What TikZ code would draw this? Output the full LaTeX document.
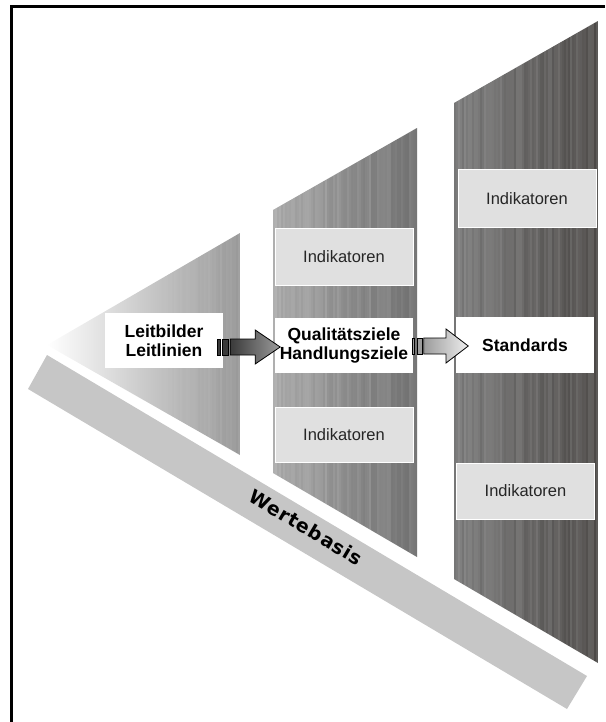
\documentclass[tikz,border=0pt]{standalone}
\usepackage{fontspec}
\setmainfont{Liberation Sans}
\newfontfamily\heavyfont{DejaVu Sans}[LetterSpace=5]
\usetikzlibrary{calc}

\definecolor{bandgray}{HTML}{C6C6C6}
\definecolor{indgray}{HTML}{E0E0E0}
\definecolor{triR}{HTML}{969696}
\definecolor{pTwoL}{HTML}{A6A6A6}
\definecolor{pTwoR}{HTML}{6A6A6A}
\definecolor{pThreeL}{HTML}{767676}
\definecolor{pThreeR}{HTML}{4B4846}
\definecolor{arrDark}{HTML}{3A3A3A}
\definecolor{arrMid}{HTML}{9C9C9C}
\definecolor{arrLight}{HTML}{EEEEEE}

\tikzset{
  indbox/.style={draw=white, line width=1pt, fill=indgray, inner sep=0pt,
    minimum width=138pt, minimum height=56pt,
    font=\fontsize{16.5}{18}\selectfont, text=black!85},
  keybox/.style={fill=white, inner sep=0pt, align=center,
    minimum height=55pt, font=\bfseries\fontsize{17.5}{19}\selectfont},
  pics/blockarrow/.style 2 args={code={
    \filldraw[draw=black, line width=0.8pt, fill=#1] (0,-8) rectangle (3,8);
    \filldraw[draw=black, line width=0.8pt, fill=#1] (5.5,-8) rectangle (11.5,8);
    \draw[line width=0.8pt, left color=#1, right color=#2]
      (13,-8) -- (38,-8) -- (38,-17) -- (63,0) -- (38,17) -- (38,8) -- (13,8) -- cycle;
  }}
}

\begin{document}
\begin{tikzpicture}[x=1pt, y=-1pt]
\useasboundingbox (0,0) rectangle (605,722);

% open frame
\draw[line width=2.3pt] (11.5,722) -- (11.5,6.5) -- (605,6.5);

% value base band
\fill[bandgray] (47,355) -- (587,676) -- (567,709) -- (28,389) -- cycle;
\node[rotate=-30.7, font=\heavyfont\bfseries\fontsize{19}{20}\selectfont]
  (wb) at (306,527) {Wertebasis};

% first stage: triangle
\begin{scope}
  \clip (47,345) -- (240,233) -- (240,455) -- cycle;
  \shade[left color=white, right color=triR] (47,225) rectangle (240,460);
  \pgfmathsetseed{5}
  \foreach \i in {0,...,47}{
    \pgfmathsetmacro\op{0.12*rnd*\i/47}
    \fill[white, opacity=\op] (144+2*\i,225) rectangle ++(2,235);
  }
\end{scope}

% second stage: striped panel
\begin{scope}
  \clip (273,210) -- (417,128) -- (417,557) -- (273,473) -- cycle;
  \shade[left color=pTwoL, right color=pTwoR] (273,120) rectangle (417,560);
  \pgfmathsetseed{11}
  \foreach \i in {0,...,71}{
    \pgfmathsetmacro\op{0.16*rnd}
    \fill[white, opacity=\op] (273+2*\i,120) rectangle ++(2,440);
  }
\end{scope}

% third stage: striped panel
\begin{scope}
  \clip (454,103) -- (598,21) -- (598,663) -- (454,579) -- cycle;
  \shade[left color=pThreeL, right color=pThreeR] (454,15) rectangle (598,670);
  \pgfmathsetseed{23}
  \foreach \i in {0,...,71}{
    \pgfmathsetmacro\op{0.14*rnd}
    \fill[white, opacity=\op] (454+2*\i,15) rectangle ++(2,655);
  }
\end{scope}

% boxes
\node[keybox, minimum width=118pt] (lb) at (164,340.5) {Leitbilder\\Leitlinien};
\node[keybox, minimum width=138pt] (qz) at (344,345.5) {Qualitätsziele\\Handlungsziele};
\node[keybox, minimum width=138pt, minimum height=56pt] (st) at (525,345) {Standards};

\node[indbox, minimum height=57pt] (iza) at (344,256.5) {Indikatoren};
\node[indbox, minimum height=55pt] (izb) at (344,434.5) {Indikatoren};
\node[indbox, minimum height=57pt] (isa) at (527,198.5) {Indikatoren};
\node[indbox, minimum height=56pt] (isb) at (525.5,491) {Indikatoren};

% arrows between the stages
\pic at ($(lb.east)+(-6,6.5)$) {blockarrow={arrDark}{arrMid}};
\pic[xscale=0.89] at ($(qz.east)+(-1,0.5)$) {blockarrow={arrMid}{arrLight}};
\end{tikzpicture}
\end{document}
